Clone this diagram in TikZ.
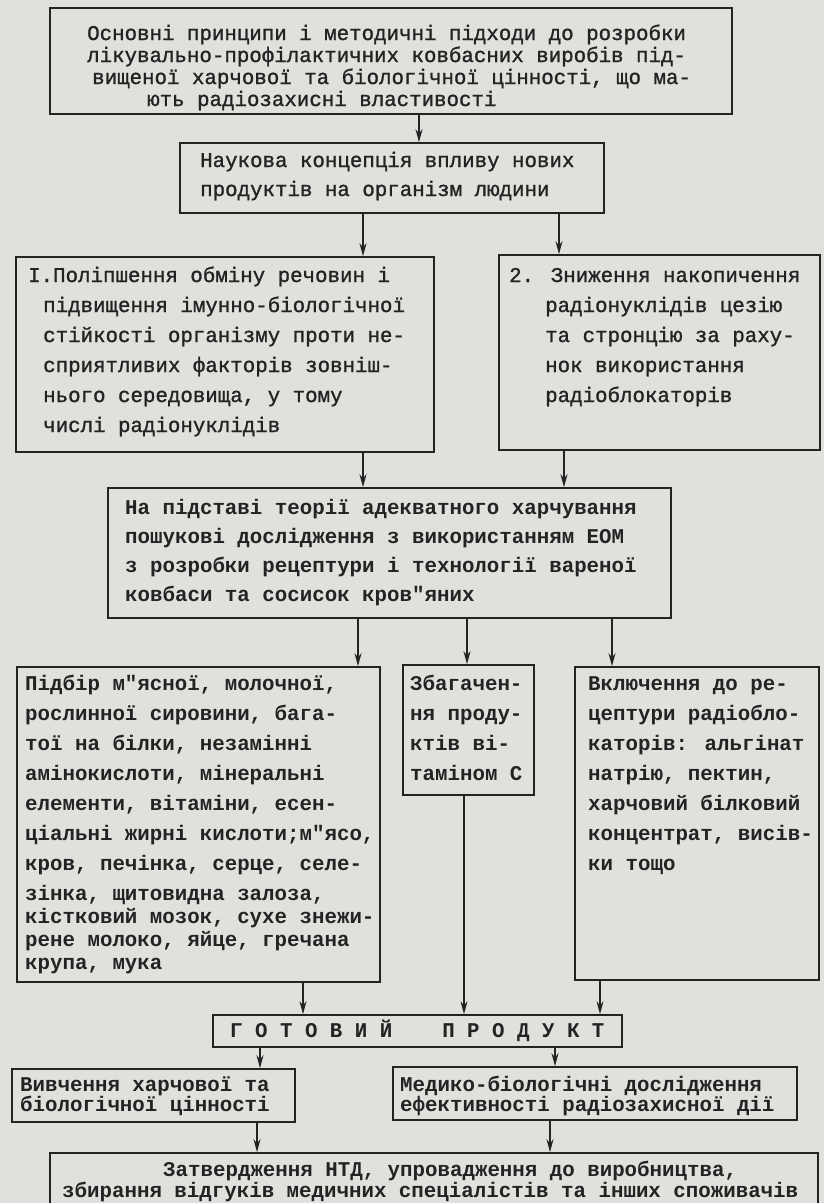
\documentclass[tikz,border=0pt]{standalone}
\usepackage{fontspec}
\usetikzlibrary{arrows.meta,fit}
\newfontfamily\twr{Liberation Mono}[FakeStretch=0.99,FakeBold=1.2]
\newfontfamily\twb{Liberation Mono Bold}[FakeStretch=0.99]
\definecolor{paper}{RGB}{224,224,221}
\definecolor{ink}{RGB}{35,35,35}
\begin{document}
\begin{tikzpicture}[x=1pt,y=-1pt,
  box/.style={draw=ink,line width=1.7pt,inner sep=0pt},
  arr/.style={draw=ink,line width=1.5pt,-{Stealth[length=13pt,width=7pt]}},
  txt/.style={anchor=base west,align=left,inner sep=0pt,text=ink},
  rg/.style={font=\twr\fontsize{21}{#1}\selectfont},
  bd/.style={font=\twb\fontsize{21}{#1}\selectfont}]
\fill[paper] (0,0) rectangle (824,1203);
\useasboundingbox (0,0) rectangle (824,1203);
% boxes
\node[box,fit={(50,8)(732,114)}] (top) {};
\node[box,fit={(180,143)(604,213)}] (sci) {};
\node[box,fit={(16,257)(434,452)}] (one) {};
\node[box,fit={(499,255)(820,450)}] (two) {};
\node[box,fit={(108,488)(671,618)}] (base) {};
\node[box,fit={(17,667)(380,982)}] (sel) {};
\node[box,fit={(403,665)(534,795)}] (vit) {};
\node[box,fit={(575,667)(819,980)}] (inc) {};
\node[box,fit={(213,1015)(622,1047)}] (prod) {};
\node[box,fit={(12,1069)(295,1122)}] (nut) {};
\node[box,fit={(393,1067)(797,1120)}] (med) {};
\node[box,fit={(50,1153)(818,1230)}] (app) {};
% texts (anchor = baseline of the last line)
\node[txt,rg=22] (topT) at (87,106) {Основні принципи і методичні підходи до розробки\\
лікувально-профілактичних ковбасних виробів під-\\
\hspace*{5pt}вищеної харчової та біологічної цінності, що ма-\\
\hspace*{60pt}ють радіозахисні властивості};
\node[txt,rg=29] (sciT) at (200,196) {Наукова концепція впливу нових\\продуктів на організм людини};
\node[txt,rg=30] (oneT) at (28,432) {І.Поліпшення обміну речовин і\\
\hspace*{15pt}підвищення імунно-біологічної\\
\hspace*{15pt}стійкості організму проти не-\\
\hspace*{15pt}сприятливих факторів зовніш-\\
\hspace*{15pt}нього середовища, у тому\\
\hspace*{15pt}числі радіонуклідів};
\node[txt,rg=30] (twoT) at (509,402) {2. Зниження накопичення\\
\hspace*{36pt}радіонуклідів цезію\\
\hspace*{36pt}та стронцію за раху-\\
\hspace*{36pt}нок використання\\
\hspace*{36pt}радіоблокаторів};
\node[txt,bd=29] (baseT) at (125,601) {На підставі теорії адекватного харчування\\
пошукові дослідження з використанням ЕОМ\\
з розробки рецептури і технології вареної\\
ковбаси та сосисок кров"яних};
\node[txt,bd=30] (selT) at (25,969) {Підбір м"ясної, молочної,\\
рослинної сировини, бага-\\
тої на білки, незамінні\\
амінокислоти, мінеральні\\
елементи, вітаміни, есен-\\
ціальні жирні кислоти;м"ясо,\\
кров, печінка, серце, селе-\\
зінка, щитовидна залоза,\\[-7pt]
кістковий мозок, сухе знежи-\\[-7pt]
рене молоко, яйце, гречана\\[-7pt]
крупа, мука};
\node[txt,bd=30] (vitT) at (410,780) {Збагачен-\\ня проду-\\ктів ві-\\таміном С};
\node[txt,bd=30] (incT) at (588,870) {Включення до ре-\\
цептури радіобло-\\
каторів: альгінат\\
натрію, пектин,\\
харчовий білковий\\
концентрат, висів-\\
ки тощо};
\node[txt,bd=30] (prodT) at (230,1037) {Г~О~Т~О~В~И~Й~~~~П~Р~О~Д~У~К~Т};
\node[txt,bd=20] (nutT) at (20,1111) {Вивчення харчової та\\біологічної цінності};
\node[txt,bd=20] (medT) at (400,1111) {Медико-біологічні дослідження\\ефективності радіозахисної дії};
\node[txt,bd=19] (appT) at (62,1197) {\hspace*{101pt}Затвердження НТД, упровадження до виробництва,\\
збирання відгуків медичних спеціалістів та інших споживачів};
% connector x positions
\coordinate (x1) at (419,0);
\coordinate (x2) at (363,0);
\coordinate (x3) at (559,0);
\coordinate (x4) at (363,0);
\coordinate (x5) at (564,0);
\coordinate (x6) at (358,0);
\coordinate (x7) at (467,0);
\coordinate (x8) at (612,0);
\coordinate (x9) at (303,0);
\coordinate (x10) at (464,0);
\coordinate (x11) at (600,0);
\coordinate (x12) at (260,0);
\coordinate (x13) at (555,0);
\coordinate (x14) at (257,0);
\coordinate (x15) at (550,0);
% connectors
\draw[arr] (top.south -| x1) -- (sci.north -| x1);
\draw[arr] (sci.south -| x2) -- (one.north -| x2);
\draw[arr] (sci.south -| x3) -- (two.north -| x3);
\draw[arr] (one.south -| x4) -- (base.north -| x4);
\draw[arr] (two.south -| x5) -- (base.north -| x5);
\draw[arr] (base.south -| x6) -- (sel.north -| x6);
\draw[arr] (base.south -| x7) -- (vit.north -| x7);
\draw[arr] (base.south -| x8) -- (inc.north -| x8);
\draw[arr] (sel.south -| x9) -- (prod.north -| x9);
\draw[arr] (vit.south -| x10) -- (prod.north -| x10);
\draw[arr] (inc.south -| x11) -- (prod.north -| x11);
\draw[arr] (prod.south -| x12) -- (nut.north -| x12);
\draw[arr] (prod.south -| x13) -- (med.north -| x13);
\draw[arr] (nut.south -| x14) -- (app.north -| x14);
\draw[arr] (med.south -| x15) -- (app.north -| x15);
\end{tikzpicture}
\end{document}
